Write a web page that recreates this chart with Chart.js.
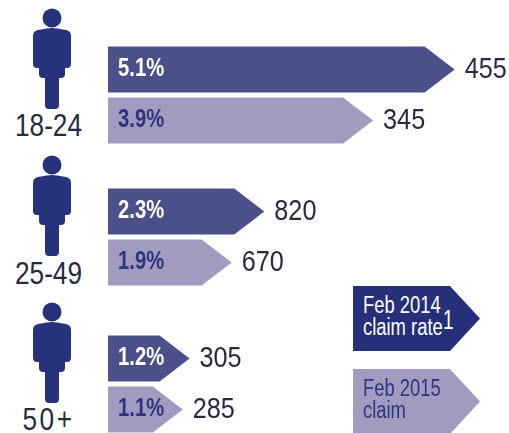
<!DOCTYPE html>
<html>
<head>
<meta charset="utf-8">
<script src="https://cdn.jsdelivr.net/npm/chart.js@4/dist/chart.umd.min.js"></script>
<style>
  html, body { margin: 0; padding: 0; background: #fff; overflow: hidden; }
  body { position: relative; width: 509px; height: 433px; font-family: "Liberation Sans", sans-serif; }
  .panel { position: absolute; left: 108px; width: 401px; height: 102px; }
  .person { position: absolute; left: 30px; width: 44px; height: 102px; fill: #26327c; }
  .age { position: absolute; left: 0; width: 97px; text-align: center; font-size: 32px; line-height: 30px; color: #262b3f; transform: scaleX(0.82); }
  .key { position: absolute; left: 353px; width: 127px; height: 65px; clip-path: polygon(0 0, 97px 0, 100% 50%, 97px 100%, 0 100%); }
  .key span { position: absolute; left: 10px; top: 8px; font-size: 23px; line-height: 22px; white-space: nowrap; transform: scaleX(0.8); transform-origin: left; }
  .key sup { position: absolute; left: 90px; top: 24px; font-size: 27px; line-height: 20px; transform: scaleX(0.7); transform-origin: left; }
</style>
</head>
<body>
<script>
    const ageGroups = ["18-24", "25-49", "50+"];
    const rateLabels2014 = ["5.1%", "2.3%", "1.2%"];
    const rateLabels2015 = ["3.9%", "1.9%", "1.1%"];
    // Comprimento das setas (a seta de 1.9% é mais curta no original)
    const barLengths2014 = [5.1, 2.3, 1.2];
    const barLengths2015 = [3.9, 1.82, 1.1];
    const claims2014 = [455, 820, 305];
    const claims2015 = [345, 670, 285];

    const panelTops = [44, 186, 333];
    const personTops = [8, 155, 302];
    const ageTops = [110, 258, 404];

    const darkBar = "#4b4f8a";
    const lightBar = "#a09bbf";
    const arrowLength = 30;

    // Texto comprimido na horizontal, como no original
    function drawNarrowText(ctx, text, x, y, font, color, squeeze) {
        ctx.save();
        ctx.translate(x, y);
        ctx.scale(squeeze, 1);
        ctx.font = font;
        ctx.fillStyle = color;
        ctx.textBaseline = "middle";
        ctx.fillText(text, 0, 0);
        ctx.restore();
    }

    // Barras em forma de seta, a partir dos elementos calculados pelo Chart.js
    const arrowBars = {
        id: "arrowBars",
        beforeDatasetDraw(chart, args) {
            const { ctx } = chart;
            const dataset = chart.data.datasets[args.index];
            args.meta.data.forEach((bar, i) => {
                const { x, y, base, height } = bar.getProps(["x", "y", "base", "height"], true);
                const top = y - height / 2;
                const bottom = y + height / 2;
                ctx.save();
                ctx.fillStyle = bar.options.backgroundColor;
                ctx.beginPath();
                ctx.moveTo(base, top);
                ctx.lineTo(x - arrowLength, top);
                ctx.lineTo(x, y);
                ctx.lineTo(x - arrowLength, bottom);
                ctx.lineTo(base, bottom);
                ctx.closePath();
                ctx.fill();
                ctx.restore();

                drawNarrowText(ctx, dataset.rateLabels[i], base + 10, y,
                    'bold 25px "Liberation Sans", sans-serif', dataset.textColor, 0.81);
                drawNarrowText(ctx, dataset.claims[i], x + 10, y,
                    '29px "Liberation Sans", sans-serif', "#262b3f", 0.87);
            });
            return false;
        }
    };

    function addPerson(top) {
        const ns = "http://www.w3.org/2000/svg";
        const svg = document.createElementNS(ns, "svg");
        svg.setAttribute("class", "person");
        svg.setAttribute("viewBox", "0 0 44 102");
        svg.style.top = top + "px";
        svg.innerHTML = `
          <circle cx="22" cy="10" r="9.5"/>
          <path d="M8 22 Q18 20 22 20 Q26 20 36 22 Q41 23 41 28 L41 56 Q41 60 37 60 L35 60 L35 66 Q35 70 31 70 L29 70 L29 97 Q29 101 25 101 L19 101 Q15 101 15 97 L15 70 L13 70 Q9 70 9 66 L9 60 L7 60 Q3 60 3 56 L3 28 Q3 23 8 22 Z"/>`;
        document.body.appendChild(svg);
    }

    ageGroups.forEach((group, i) => {
        addPerson(personTops[i]);

        const age = document.createElement("div");
        age.className = "age";
        age.style.top = ageTops[i] + "px";
        if (group === "50+") age.style.letterSpacing = "3px";
        age.textContent = group;
        document.body.appendChild(age);

        const panel = document.createElement("div");
        panel.className = "panel";
        panel.style.top = panelTops[i] + "px";
        const canvas = document.createElement("canvas");
        panel.appendChild(canvas);
        document.body.appendChild(panel);

        new Chart(canvas, {
            type: "bar",
            data: {
                labels: [group],
                datasets: [
                    { label: "Feb 2014 claim rate", data: [barLengths2014[i]], rateLabels: [rateLabels2014[i]], claims: [claims2014[i]], backgroundColor: darkBar, textColor: "#ffffff" },
                    { label: "Feb 2015 claim", data: [barLengths2015[i]], rateLabels: [rateLabels2015[i]], claims: [claims2015[i]], backgroundColor: lightBar, textColor: "#2e3580" }
                ]
            },
            options: {
                indexAxis: "y",
                responsive: true,
                maintainAspectRatio: false,
                animation: false,
                categoryPercentage: 1,
                barPercentage: 46 / 51,
                layout: { padding: 0 },
                plugins: { legend: { display: false }, tooltip: { enabled: false } },
                scales: {
                    x: { display: false, min: 0, max: 5.9 },
                    y: { display: false }
                }
            },
            plugins: [arrowBars]
        });
    });
</script>
<div class="key" style="top:286px;background:#26307a;color:#fff"><span>Feb 2014<br>claim rate</span><sup>1</sup></div>
<div class="key" style="top:369px;background:#a09bbf;color:#2e3580"><span>Feb 2015<br>claim</span></div>
</body>
</html>
